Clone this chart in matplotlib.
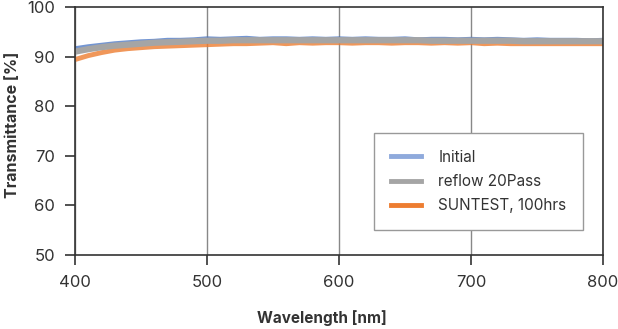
import matplotlib.pyplot as plt

plt.rcParams['font.family'] = ['Inter', 'DejaVu Sans']

wavelength = list(range(400, 801, 10))
initial = [91.6, 92.0, 92.3, 92.6, 92.8, 93.0, 93.1, 93.3, 93.3, 93.4,
           93.6, 93.5, 93.6, 93.7, 93.5, 93.6, 93.6, 93.5, 93.6, 93.5,
           93.6, 93.5, 93.6, 93.5, 93.5, 93.6, 93.4, 93.5, 93.5, 93.4,
           93.5, 93.4, 93.5, 93.4, 93.3, 93.4, 93.3, 93.3, 93.3, 93.2, 93.3]
reflow = [91.0, 91.5, 91.9, 92.2, 92.4, 92.6, 92.8, 92.9, 93.0, 93.1,
          93.2, 93.2, 93.3, 93.3, 93.3, 93.3, 93.3, 93.3, 93.3, 93.3,
          93.3, 93.3, 93.3, 93.3, 93.3, 93.3, 93.3, 93.2, 93.2, 93.2,
          93.2, 93.2, 93.2, 93.2, 93.1, 93.1, 93.1, 93.1, 93.1, 93.1, 93.1]
suntest = [89.4, 90.2, 90.8, 91.3, 91.6, 91.8, 92.0, 92.1, 92.2, 92.3,
           92.4, 92.5, 92.6, 92.6, 92.7, 92.8, 92.6, 92.8, 92.7, 92.8,
           92.8, 92.7, 92.8, 92.8, 92.7, 92.8, 92.8, 92.7, 92.8, 92.7,
           92.8, 92.6, 92.7, 92.6, 92.6, 92.6, 92.6, 92.6, 92.6, 92.6, 92.6]
labels = ['Initial', 'reflow 20Pass', 'SUNTEST, 100hrs']

fig = plt.figure(figsize=(6.18, 3.29), dpi=100)
ax = fig.add_axes([0.1214, 0.2249, 0.8544, 0.7538])

ax.plot(wavelength, initial, color='#4472C4', lw=3.5, alpha=0.75, solid_capstyle='butt')
ax.plot(wavelength, suntest, color='#ED7D31', lw=3.5, alpha=0.8, solid_capstyle='butt')
ax.plot(wavelength, reflow, color='#A5A5A5', lw=4.5, solid_capstyle='butt')

ax.set_xlim(400, 800)
ax.set_ylim(50, 100)
ax.set_xticks([400, 500, 600, 700, 800])
ax.set_yticks([50, 60, 70, 80, 90, 100])
ax.grid(axis='x', color='#888888', lw=1)
for s in ax.spines.values():
    s.set_color('#333333')
    s.set_linewidth(1.2)
ax.tick_params(colors='#333333', labelsize=12, length=7.5, width=1.2, pad=7)

fig.text(322 / 618, 1 - 318 / 329, 'Wavelength [nm]', fontsize=11, fontweight='bold',
         color='#333333', ha='center', va='center')
fig.text(13 / 618, 1 - 125 / 329, 'Transmittance [%]', fontsize=11.5, fontweight='bold',
         color='#333333', ha='center', va='center', rotation=90)

h1, = ax.plot([], [], color='#8FAADC', lw=3.5)
h2, = ax.plot([], [], color='#A5A5A5', lw=3.5)
h3, = ax.plot([], [], color='#ED7D31', lw=3.5)
leg = ax.legend([h1, h2, h3], labels,
                loc='upper left', bbox_to_anchor=(374 / 618, 1 - 133 / 329),
                bbox_transform=fig.transFigure, borderaxespad=0, fontsize=11,
                fancybox=False, framealpha=1, edgecolor='#999999',
                handlelength=2, borderpad=1.1, labelspacing=0.6, handletextpad=1.1)
leg.get_frame().set_linewidth(1)
for t in leg.get_texts():
    t.set_color('#333333')

fig.savefig('out.png', dpi=100)
